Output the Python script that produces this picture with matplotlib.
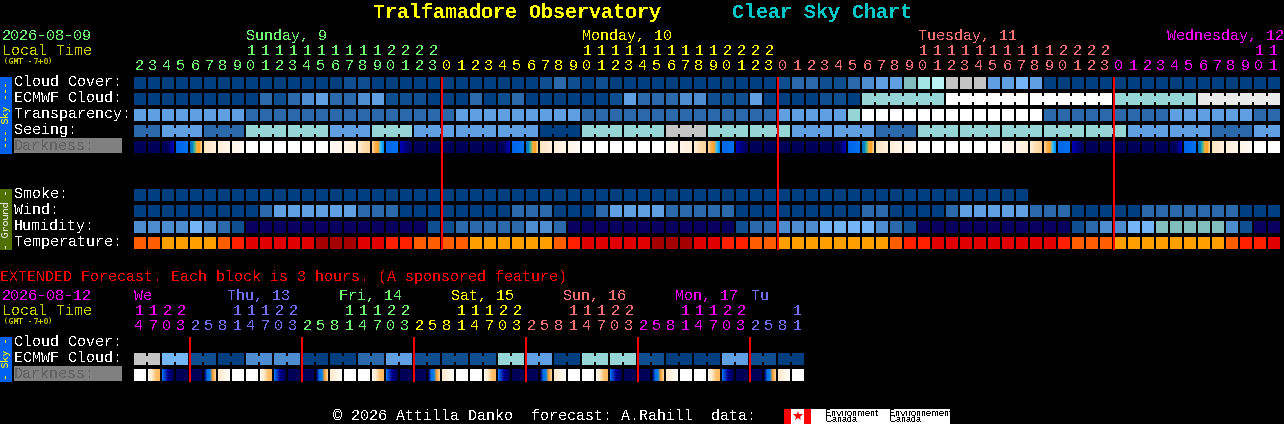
"""Tralfamadore Observatory clear sky chart, redrawn on a pixel grid."""
import matplotlib
matplotlib.use("Agg")
import matplotlib.pyplot as plt
from matplotlib.colors import LinearSegmentedColormap
from matplotlib.patches import Rectangle
import numpy as np

plt.rcParams["font.family"] = ["Liberation Mono", "DejaVu Sans Mono"]
plt.rcParams["text.antialiased"] = False
plt.rcParams["text.hinting"] = "native"
plt.rcParams["text.hinting_factor"] = 1

# block levels
CLOUD = [0] * 15 + [1, 1] + [0] * 12 + [1, 2, 1, 0, 1] + [0] * 12 + [
    1, 2, 2, 1, 1, 2, 3, 4, 4, 6, 8, 9, 10, 10, 10, 4, 4, 5, 4] + [0] * 17
ECMWF = [0, 0, 0, 0, 0, 0, 0, 0, 0, 2, 1, 2, 3, 4, 2, 2, 3, 4, 1, 1, 1,
         0, 0, 0, 2, 0, 1, 2, 0, 0, 0, 0, 0, 0, 1, 4, 2, 2, 2, 3, 3, 1, 1, 1, 4, 0,
         0, 0, 0, 1, 1, 0,
         7, 7, 7, 7, 7, 7, 12, 12, 12, 12, 12, 12, 12, 12, 12, 12, 12, 12,
         7, 7, 7, 7, 7, 7, 11, 11, 11, 11, 11, 11]
TRANSPARENCY = [4] * 8 + [2] * 15 + [4] * 9 + [2] * 14 + [4] * 5 + [7] + [12] * 13 + [2] * 9 + [4] * 6 + [2, 2]
SEEING = [2, 2] + [4] * 3 + [2] * 3 + [7] * 6 + [4] * 3 + [7] * 3 + [4] * 9 + [0] * 3 + [7] * 6 + [10] * 3 + [
    7] * 6 + [4] * 6 + [2] * 3 + [7] * 15 + [4] * 6 + [2] * 3 + [4, 4]
SMOKE = [0] * 64
WIND = [0] * 9 + [2] + [4] * 6 + [2] * 3 + [0] * 8 + [2] * 3 + [0] * 3 + [2] + [4] * 4 + [2] * 5 + [
    0] * 9 + [2, 2] + [0] * 4 + [2] + [4] * 5 + [2] * 3 + [0] * 5 + [2] * 7 + [0] * 3
HUMIDITY = [3, 3, 3, 3, 5, 3, 2, 1] + [13] * 13 + [1, 1, 2, 2, 2, 2, 2, 3, 3, 2] + [13] * 12 + [
    1, 2, 2, 3, 3, 3, 5, 5, 5, 5, 3, 2, 1] + [13] * 11 + [1, 2, 3, 3, 5, 5, 6, 6, 6, 6, 6, 3, 1, 13, 13]
TEMPERATURE = ["o", "o", "a", "a", "a", "a", "o", "r", "R", "R", "R", "R", "R", "d", "d", "d", "R", "R",
               "r", "r", "o", "o", "o", "o", "a", "a", "a", "a", "a", "a", "o", "r", "R", "R", "R", "R",
               "R", "d", "d", "d", "R", "R", "r", "r", "o", "o", "a", "a", "a", "a", "a", "a", "a", "a",
               "o", "r", "r", "R", "R", "R", "R", "R", "R", "R", "R", "R", "r", "o", "o", "o", "a", "a",
               "a", "a", "a", "a", "a", "a", "o", "r", "r", "R"]
DARKNESS = list("nnabcdefwwwwwwghijbknn" "nnnnabcdefwwwwwwghijbknn"
                "nnnnabcdefwwwwwwghijbknn" "nnnnabcdefww")
EXT_ECMWF = [10, 10, 5, 5, 1, 1, 0, 0, 3, 3, 3, 3, 0, 0, 0, 0, 2, 2, 4, 4, 1, 1, 1, 1,
             1, 1, 7, 7, 4, 4, 0, 0, 7, 7, 7, 7, 1, 1, 0, 0, 0, 0, 4, 4, 1, 1, 0, 0]
EXT_DARKNESS = list("wyznnxvwwyznnxvwwyznnxvwwyznnxvwwyznnxvwwyznnxvw")

# runs of blocks that are joined by a notched bridge
ECMWF_RUNS = [1] * 52 + [6] * 5
SEEING_RUNS = [2] + [3] * 26 + [2]
EXT_RUNS = [2] * 24

HOURS = [2, 3, 4, 5, 6, 7, 8, 9, 10, 11, 12, 13, 14, 15, 16, 17, 18, 19, 20, 21, 22, 23,
         0, 1, 2, 3, 4, 5, 6, 7, 8, 9, 10, 11, 12, 13, 14, 15, 16, 17, 18, 19, 20, 21, 22, 23,
         0, 1, 2, 3, 4, 5, 6, 7, 8, 9, 10, 11, 12, 13, 14, 15, 16, 17, 18, 19, 20, 21, 22, 23,
         0, 1, 2, 3, 4, 5, 6, 7, 8, 9, 10, 11]
EXT_HOURS = [14, 17, 20, 23] + [2, 5, 8, 11, 14, 17, 20, 23] * 5 + [2, 5, 8, 11]
DAY_LABELS = [("Sunday, 9", 246, "g"), ("Monday, 10", 582, "y"),
              ("Tuesday, 11", 918, "s"), ("Wednesday, 12", 1167, "m")]
EXT_DAY_LABELS = [("We", 134, "m"), ("Thu, 13", 227, "b"), ("Fri, 14", 339, "g"),
                  ("Sat, 15", 451, "y"), ("Sun, 16", 563, "s"), ("Mon, 17", 675, "m"),
                  ("Tu", 751, "b")]
MIDNIGHTS = [22, 46, 70]
EXT_MIDNIGHTS = [4, 12, 20, 28, 36, 44]

LEVELS = {0: "#003f7f", 1: "#0f4f8f", 2: "#2b69aa", 3: "#4c8ccf", 4: "#5f9fe2", 5: "#74b5f5",
          6: "#82bdbd", 7: "#95d5d5", 8: "#a3e5e5", 9: "#b9f3f3", 10: "#c4c4c4", 11: "#e9e9e9",
          12: "#ffffff", 13: "#0a0060"}
TEMPS = {"o": "#ff5e00", "a": "#ff9f00", "r": "#ff2000", "R": "#e00000", "d": "#a40000"}
DARK_STOPS = {
    "n": ["#000058", "#000058"],
    "a": ["#000058", "#000058", "#000058", "#000090", "#0000b8"],
    "b": ["#0066e8", "#0070f0"],
    "c": ["#0070c8", "#0090c0", "#60b890", "#ffb030", "#ffa020", "#ffd090"],
    "d": ["#ffe4c0", "#fff0dc"],
    "e": ["#ffeeda", "#fff6ea"],
    "f": ["#fff5e9", "#fffaf4"],
    "w": ["#ffffff", "#ffffff"],
    "g": ["#fffaf4", "#fff5ea"],
    "h": ["#fff5ea", "#ffeed8"],
    "i": ["#ffeed8", "#ffdcb0", "#ffd49c"],
    "j": ["#ffd090", "#ffb050", "#ffa020", "#30c0ff", "#0090f0"],
    "k": ["#0000b8", "#000080", "#000058"],
    "x": ["#000058", "#0070f0", "#0080e0", "#ffa030", "#ffd090"],
    "v": ["#ffe8cc", "#fff4e4", "#ffffff"],
    "y": ["#fff8f0", "#ffe8c8", "#ffc070", "#ffb860"],
    "z": ["#0070f0", "#000090", "#000058"],
}
TEXT = {"g": "#70ff70", "y": "#ffff00", "s": "#ff7070", "m": "#ff00ff", "b": "#7070ff"}
OLIVE = "#cccc00"

X0, PITCH, BLOCK = 134, 14, 12


def px(size):
    return size * 72 / 100


def label(ax, x, y, s, color="white", size=15, **kw):
    kw.setdefault("va", "center")
    ax.text(x, y + 1, s, color=color, fontsize=px(size), **kw)


def draw_row(ax, y, values, colors, runs=None):
    for i, v in enumerate(values):
        ax.add_patch(Rectangle((X0 + PITCH * i, y), BLOCK, BLOCK, fc=colors[v], lw=0, antialiased=False))
    if runs is None:
        return
    i = 0
    for r in runs:
        for j in range(i, i + r - 1):
            ax.add_patch(Rectangle((X0 + PITCH * j + BLOCK, y + 3), 2, 6, fc=colors[values[j]],
                                   lw=0, antialiased=False))
        i += r


def draw_darkness(ax, y, values):
    for i, v in enumerate(values):
        cmap = LinearSegmentedColormap.from_list(v, DARK_STOPS[v])
        grad = cmap(np.linspace(0, 1, BLOCK))[None, :, :]
        left = X0 + PITCH * i
        ax.imshow(grad, extent=(left, left + BLOCK, y + BLOCK, y), aspect="auto",
                  interpolation="nearest", zorder=2)


def side_bar(ax, y0, y1, s, face, color):
    ax.add_patch(Rectangle((0, y0), 12, y1 - y0, fc=face, lw=0, antialiased=False))
    ax.text(6, (y0 + y1) / 2, s, color=color, fontsize=px(10), rotation=90, ha="center", va="center",
            family="DejaVu Sans Mono", antialiased=True)


def hour_labels(ax, hours, colors, y_tens, y_units):
    for i, (h, c) in enumerate(zip(hours, colors)):
        x = X0 + PITCH * i + 5
        if h >= 10:
            label(ax, x, y_tens, str(h // 10), TEXT[c], ha="center")
        label(ax, x, y_units, str(h % 10), TEXT[c], ha="center")


fig = plt.figure(figsize=(12.84, 4.24), dpi=100, facecolor="black")
ax = fig.add_axes([0, 0, 1, 1])
ax.set_facecolor("black")
ax.axis("off")

label(ax, 373, 11, "Tralfamadore Observatory", "#ffff00", 20, fontweight="bold")
label(ax, 732, 11, "Clear Sky Chart", "#00c8c8", 20, fontweight="bold")

# hourly section
label(ax, 2, 35, "2026-08-09", TEXT["g"])
label(ax, 2, 50, "Local Time", OLIVE)
label(ax, 3, 61, "(GMT -7+0)", OLIVE, 8, family="DejaVu Sans Mono", antialiased=True)
for s, x, c in DAY_LABELS:
    label(ax, x, 35, s, TEXT[c])
hour_colors = ["g"] * 22 + ["y"] * 24 + ["s"] * 24 + ["m"] * 12
hour_labels(ax, HOURS, hour_colors, 50, 65)

for y, s in [(81, "Cloud Cover:"), (97, "ECMWF Cloud:"), (113, "Transparency:"), (129, "Seeing:"),
             (193, "Smoke:"), (209, "Wind:"), (225, "Humidity:"), (241, "Temperature:")]:
    label(ax, 14, y, s)
ax.add_patch(Rectangle((14, 138), 108, 15, fc="#808080", lw=0, antialiased=False))
label(ax, 14, 145, "Darkness:", "#606060")
side_bar(ax, 77, 154, "--- Sky ---", "#0060f0", "#ffff00")
side_bar(ax, 189, 250, "- Ground -", "#507000", "#e8e8e8")

draw_row(ax, 77, CLOUD, LEVELS)
draw_row(ax, 93, ECMWF, LEVELS, ECMWF_RUNS)
draw_row(ax, 109, TRANSPARENCY, LEVELS)
draw_row(ax, 125, SEEING, LEVELS, SEEING_RUNS)
draw_darkness(ax, 141, DARKNESS)
draw_row(ax, 189, SMOKE, LEVELS)
draw_row(ax, 205, WIND, LEVELS)
draw_row(ax, 221, HUMIDITY, LEVELS)
draw_row(ax, 237, TEMPERATURE, TEMPS)
for k in MIDNIGHTS:
    ax.add_patch(Rectangle((X0 + PITCH * k - 1, 77), 2, 173, fc="#ff0000", lw=0, antialiased=False, zorder=5))

# extended section
label(ax, 0, 276, "EXTENDED Forecast. Each block is 3 hours. (A sponsored feature)", "#ff0000")
label(ax, 2, 295, "2026-08-12", TEXT["m"])
label(ax, 2, 310, "Local Time", OLIVE)
label(ax, 3, 321, "(GMT -7+0)", OLIVE, 8, family="DejaVu Sans Mono", antialiased=True)
for s, x, c in EXT_DAY_LABELS:
    label(ax, x, 295, s, TEXT[c])
ext_colors = ["m"] * 4 + ["b"] * 8 + ["g"] * 8 + ["y"] * 8 + ["s"] * 8 + ["m"] * 8 + ["b"] * 4
hour_labels(ax, EXT_HOURS, ext_colors, 310, 325)

label(ax, 14, 341, "Cloud Cover:")
label(ax, 14, 357, "ECMWF Cloud:")
ax.add_patch(Rectangle((14, 366), 108, 15, fc="#808080", lw=0, antialiased=False))
label(ax, 14, 373, "Darkness:", "#606060")
side_bar(ax, 337, 382, "- Sky -", "#0060f0", "#ffff00")
draw_row(ax, 353, EXT_ECMWF, LEVELS, EXT_RUNS)
draw_darkness(ax, 369, EXT_DARKNESS)
for k in EXT_MIDNIGHTS:
    ax.add_patch(Rectangle((X0 + PITCH * k - 1, 337), 2, 45, fc="#ff0000", lw=0, antialiased=False, zorder=5))

# footer and logo
label(ax, 333, 415, "\u00a9 2026 Attilla Danko  forecast: A.Rahill  data:")
ax.add_patch(Rectangle((784, 409), 166, 15, fc="white", lw=0, antialiased=False))
ax.add_patch(Rectangle((784, 409), 7, 15, fc="#ff0000", lw=0, antialiased=False))
ax.add_patch(Rectangle((804, 409), 7, 15, fc="#ff0000", lw=0, antialiased=False))
ax.plot([797.5], [416], marker="*", ms=7, color="#ff0000", mew=0, zorder=4)
label(ax, 825, 412, "Environment", "black", 9.5, family="Liberation Sans")
label(ax, 825, 419, "Canada", "black", 9.5, family="Liberation Sans")
label(ax, 889, 412, "Environnement", "black", 9.5, family="Liberation Sans")
label(ax, 889, 419, "Canada", "black", 9.5, family="Liberation Sans")

ax.set_xlim(0, 1284)
ax.set_ylim(424, 0)
fig.savefig("out.png", dpi=100, facecolor="black")
